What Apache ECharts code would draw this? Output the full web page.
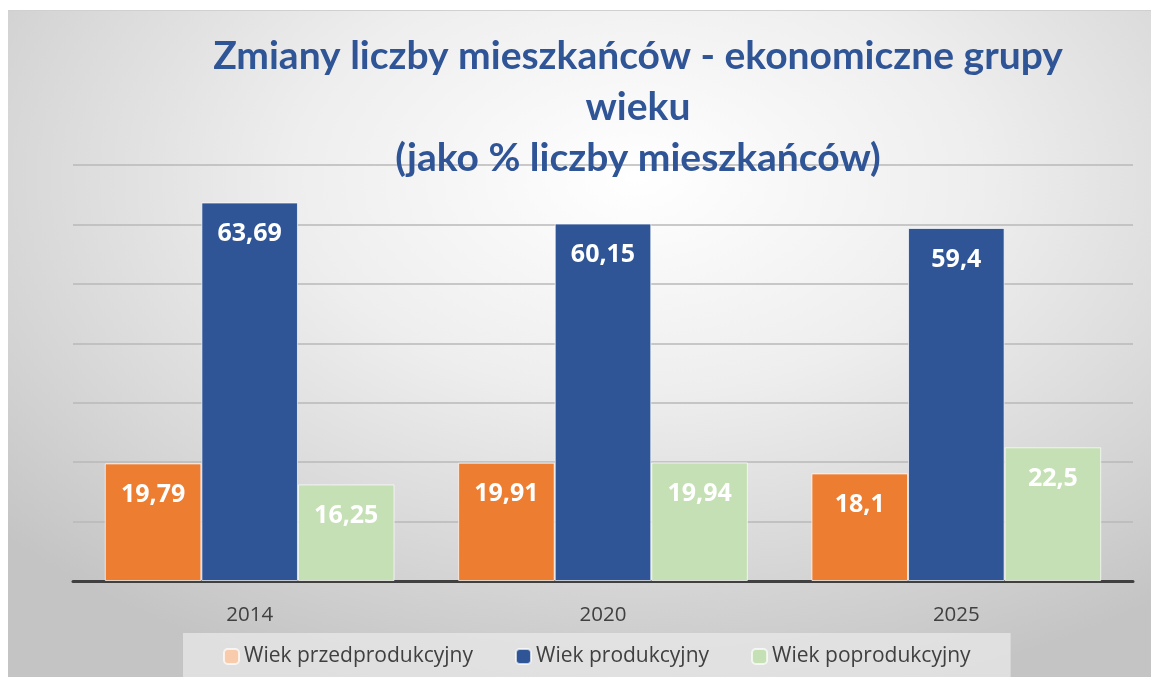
<!DOCTYPE html>
<html>
<head>
<meta charset="utf-8">
<script src="https://cdn.jsdelivr.net/npm/echarts@6/dist/echarts.min.js"></script>
<style>
    html, body { margin: 0; padding: 0; background: #fff; }
    .bg {
        position: absolute; left: 8px; top: 10px; width: 1143px; height: 667px;
        border-top: 1px solid #d0d0d0;
        background: radial-gradient(ellipse 75% 80% at 55% 25%, #ffffff 0%, #eeeeee 40%, #d6d6d6 75%, #c4c4c4 100%);
    }
    #chart { position: absolute; left: 0; top: 0; width: 1151px; height: 677px; }
</style>
</head>
<body>
<div class="bg"></div>
<div id="chart"></div>
<script>
    // dane z wykresu
    const years = ['2014', '2020', '2025'];
    const przedprodukcyjny = [19.79, 19.91, 18.1];
    const produkcyjny = [63.69, 60.15, 59.4];
    const poprodukcyjny = [16.25, 19.94, 22.5];
    const seriesNames = ['Wiek przedprodukcyjny', 'Wiek produkcyjny', 'Wiek poprodukcyjny'];

    const colors = ['#ED7D31', '#2F5597', '#C5E0B4'];
    const legendColors = ['#F8CBAD', '#2F5597', '#C5E0B4'];

    const fmt = p => String(p.value).replace('.', ',');

    function makeSeries(name, data, color) {
        return {
            name: name,
            type: 'bar',
            data: data,
            barGap: '0%',
            barCategoryGap: '18%',
            itemStyle: { color: color, borderColor: 'rgba(255,255,255,0.7)', borderWidth: 1 },
            label: {
                show: true,
                position: 'insideTop',
                distance: 19,
                color: '#fff',
                fontFamily: 'Open Sans',
                fontWeight: 'bold',
                fontSize: 25,
                formatter: fmt
            }
        };
    }

    const chart = echarts.init(document.getElementById('chart'));
    chart.setOption({
        animation: false,
        backgroundColor: 'transparent',
        title: {
            text: 'Zmiany liczby mieszkańców - ekonomiczne grupy\nwieku\n(jako % liczby mieszkańców)',
            left: 633,
            top: 26,
            textAlign: 'center',
            textStyle: {
                fontFamily: 'Lato',
                fontWeight: 'bold',
                fontSize: 39,
                lineHeight: 51,
                color: '#2F5597'
            }
        },
        legend: {
            data: seriesNames.map((n, i) => ({ name: n, itemStyle: { color: legendColors[i] } })),
            left: 183,
            top: 633,
            padding: [13, 40, 14, 40],
            backgroundColor: 'rgba(232,232,232,0.75)',
            itemWidth: 15,
            itemHeight: 15,
            itemGap: 42,
            textStyle: { fontFamily: 'Open Sans', fontSize: 21, color: '#404040' }
        },
        grid: { left: 73, right: 18, top: 165, bottom: 96 },
        xAxis: {
            type: 'category',
            data: years,
            axisLine: { lineStyle: { color: '#404040', width: 3 } },
            axisTick: { show: false },
            axisLabel: { margin: 24, fontFamily: 'Open Sans', fontSize: 20.5, color: '#404040' }
        },
        yAxis: {
            type: 'value',
            min: 0,
            max: 70,
            interval: 10,
            axisLabel: { show: false },
            axisLine: { show: false },
            axisTick: { show: false },
            splitLine: { lineStyle: { color: '#b8b8b8', width: 1.5 } }
        },
        series: [
            makeSeries(seriesNames[0], przedprodukcyjny, colors[0]),
            makeSeries(seriesNames[1], produkcyjny, colors[1]),
            makeSeries(seriesNames[2], poprodukcyjny, colors[2])
        ]
    });
</script>
</body>
</html>
